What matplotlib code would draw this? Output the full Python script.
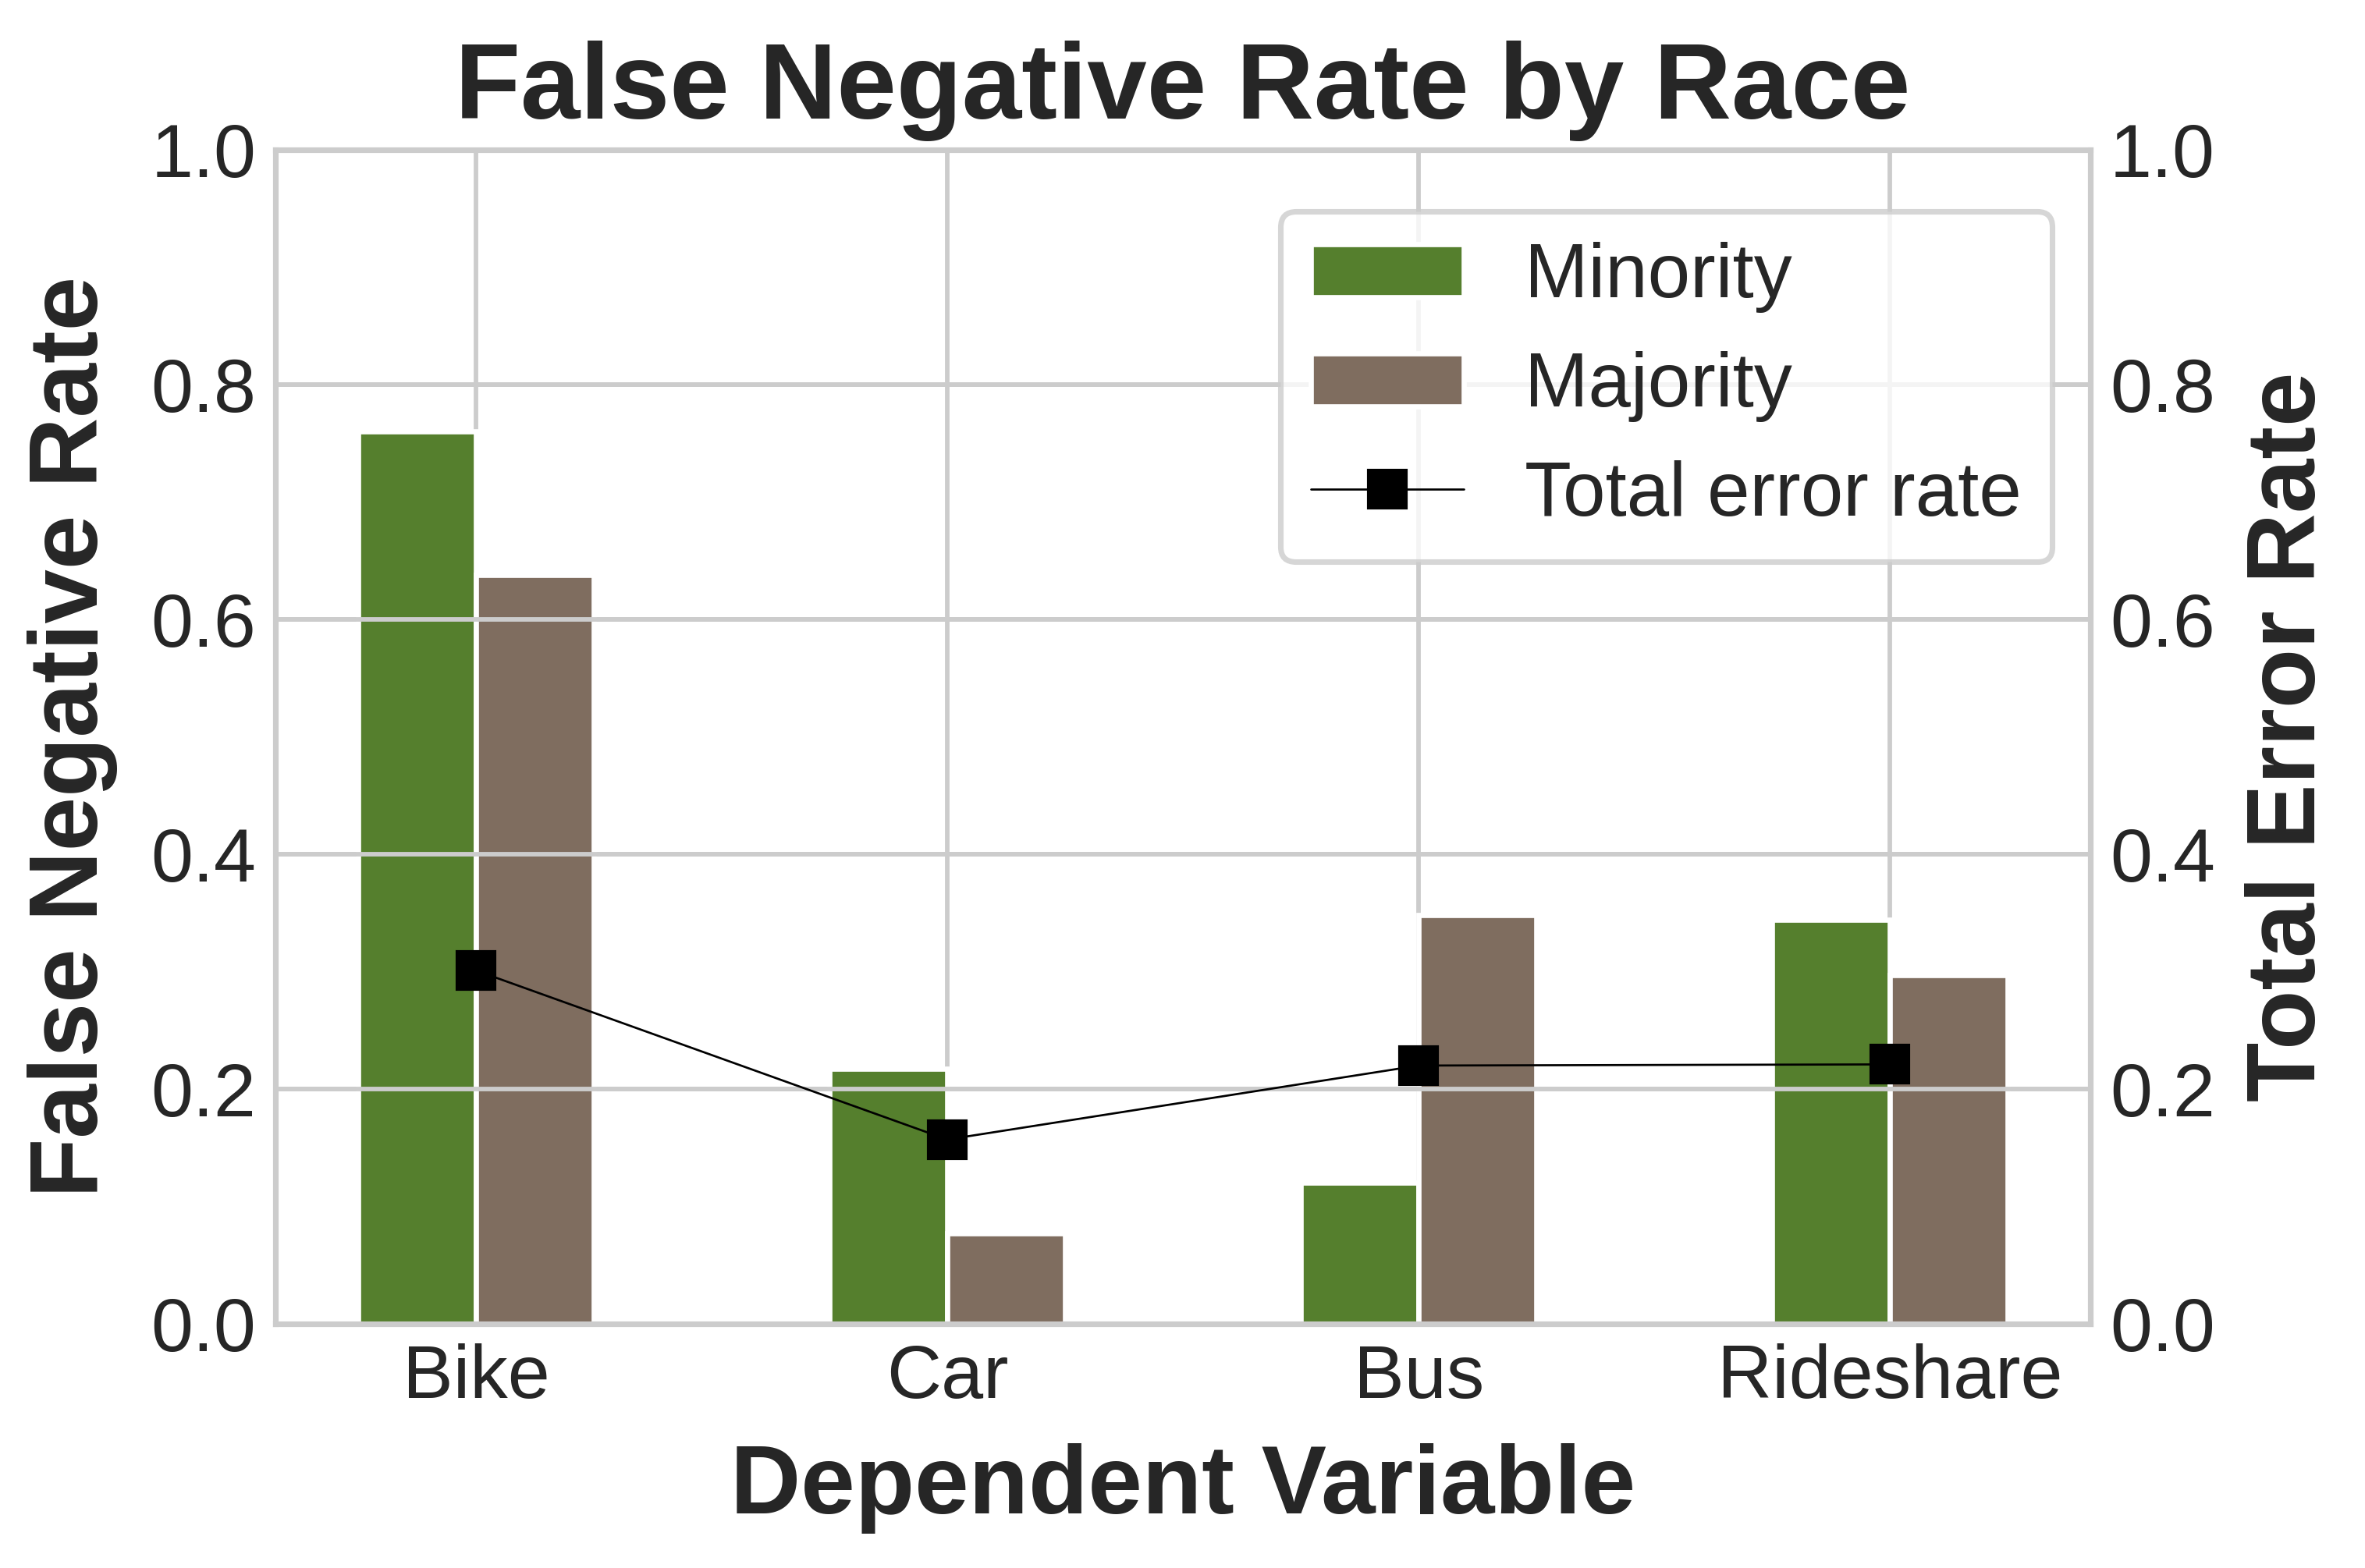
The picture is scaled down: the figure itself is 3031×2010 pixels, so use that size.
import numpy as np
import matplotlib
matplotlib.use("Agg")
import matplotlib.pyplot as plt

plt.style.use('seaborn-v0_8-whitegrid')
plt.rcParams['font.family'] = ['Liberation Sans', 'DejaVu Sans']

categories = ['Bike', 'Car', 'Bus', 'Rideshare']
minority_fnr = [0.760, 0.217, 0.120, 0.344]
majority_fnr = [0.638, 0.077, 0.348, 0.297]
total_error = [0.301, 0.157, 0.220, 0.221]

green = '#557f2d'
brown = '#7f6d5f'
text_col = '#262626'

fig, ax1 = plt.subplots(figsize=(3031 / 300, 2010 / 300), dpi=300)
fig.subplots_adjust(left=0.1165, right=0.8839, bottom=0.1557, top=0.9045)

x = np.arange(len(categories))
w = 0.25

ax1.bar(x - w / 2, minority_fnr, w, color=green, edgecolor='white', linewidth=1.6, label='Minority')
ax1.bar(x + w / 2, majority_fnr, w, color=brown, edgecolor='white', linewidth=1.6, label='Majority')

ax1.set_ylim(0, 1)
ax1.set_xticks(x)
ax1.set_xticklabels(categories)
ax1.set_xlabel('Dependent Variable', fontsize=30, fontweight='bold', color=text_col, labelpad=9)
ax1.set_ylabel('False Negative Rate', fontsize=30, fontweight='bold', color=text_col, labelpad=10)
ax1.tick_params(axis='both', labelsize=23.3, pad=6, colors=text_col)
ax1.grid(True, color='#cccccc', linewidth=1.4)
for s in ax1.spines.values():
    s.set_linewidth(1.7)
    s.set_edgecolor('#cccccc')

ax2 = ax1.twinx()
ax2.plot(x, total_error, '-s', color='black', linewidth=0.65, markersize=11.7, label='Total error rate')
ax2.set_ylim(0, 1)
ax2.set_ylabel('Total Error Rate', fontsize=30, fontweight='bold', color=text_col, labelpad=9)
ax2.tick_params(axis='y', labelsize=23.3, pad=6, colors=text_col)
ax2.grid(True, axis='y', color='#cccccc', linewidth=1.4)
for s in ax2.spines.values():
    s.set_linewidth(1.7)
    s.set_edgecolor('#cccccc')

ax1.set_title('False Negative Rate by Race', fontsize=33, fontweight='bold', color=text_col, pad=9.5)

h1, l1 = ax1.get_legend_handles_labels()
h2, l2 = ax2.get_legend_handles_labels()
leg = ax2.legend(h1 + h2, l1 + l2, loc='upper right', bbox_to_anchor=(0.979, 0.9475),
                 borderaxespad=0, fontsize=23.5, frameon=True, framealpha=0.8,
                 labelspacing=0.5, handletextpad=0.8)
leg.get_frame().set_edgecolor('#cccccc')
leg.get_frame().set_linewidth(1.7)
for t in leg.get_texts():
    t.set_color(text_col)

fig.savefig('out.png', dpi=300)
